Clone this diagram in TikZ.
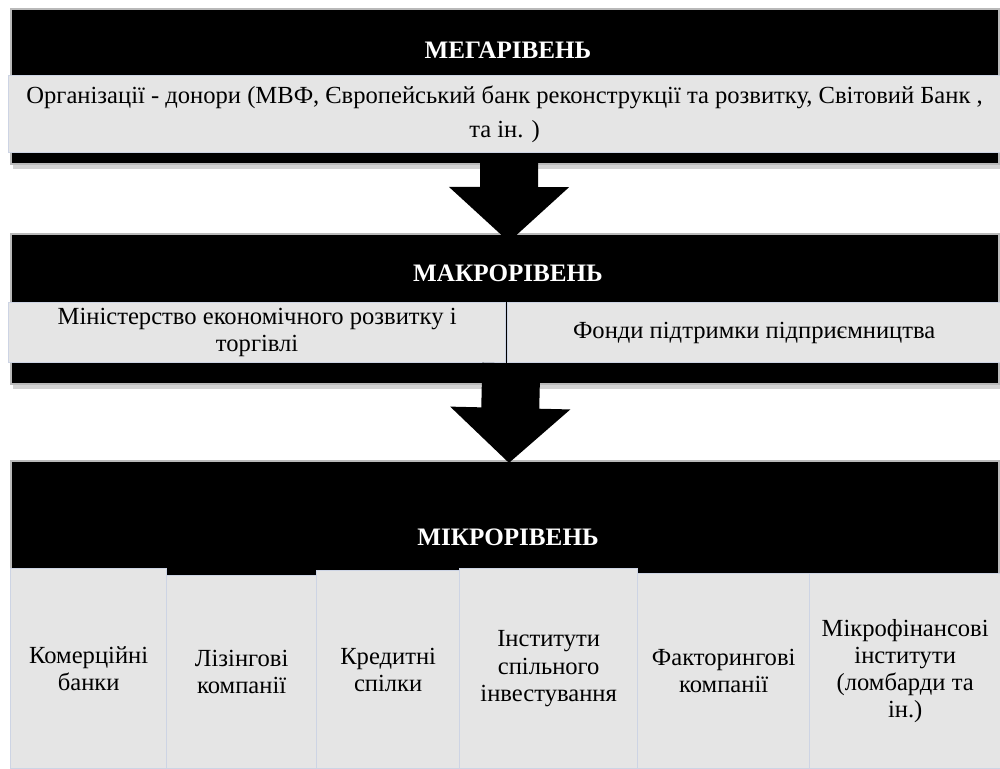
\documentclass[tikz,border=0pt]{standalone}
\usepackage{fontspec}
\setmainfont{Liberation Serif}
\usetikzlibrary{arrows.meta,shadows,positioning,calc}
\definecolor{boxgray}{RGB}{229,229,229}
\definecolor{boxedge}{RGB}{205,212,228}

\begin{document}
\begin{tikzpicture}[x=0.02cm,y=0.02cm]
\tikzstyle{every node}+=[inner sep=0pt, font=\fontsize{14}{15.5}\selectfont]
\tikzstyle{band}=[fill=black, draw=gray!55, line width=1.2pt, anchor=north west, drop shadow={opacity=0.35,shadow xshift=0.04cm,shadow yshift=-0.1cm}]
\tikzstyle{level}=[text=white, font=\fontsize{14.3}{16}\selectfont\bfseries]
\tikzstyle{item}=[fill=boxgray, draw=boxedge, line width=0.8pt, anchor=north west, align=center]
\tikzstyle{bigarrow}=[line width=1.16cm, -{Triangle[width=2.34cm,length=1.1cm]}]
\useasboundingbox (0,0) rectangle (1000,-768);
\node [band, minimum width=19.76cm, minimum height=3.1cm] (mega) at (10,-8) {};
\node [level] (megatitle) at (508,-50) {МЕГАРІВЕНЬ};
\node [item, minimum width=19.84cm, minimum height=1.54cm] (donors) at (8,-75) {Організації - донори (МВФ, Європейський банк реконструкції та розвитку, Світовий Банк ,\\[0.12cm]та ін. )};
\node [band, minimum width=19.76cm, minimum height=3.0cm] (macro) at (10,-233) {};
\node [level] (macrotitle) at (508,-273) {МАКРОРІВЕНЬ};
\node [item, minimum width=9.94cm, minimum height=1.2cm] (ministry) at (8,-302) {Міністерство економічного розвитку і\\торгівлі};
\node [item, minimum width=9.86cm, minimum height=1.2cm] (funds) at (507,-302) {Фонди підтримки підприємництва};
\node [band, minimum width=19.76cm, minimum height=6.2cm] (micro) at (10,-460) {};
\node [level] (microtitle) at (508,-537) {МІКРОРІВЕНЬ};
\node [item, minimum width=3.12cm, minimum height=4.0cm] (banks) at (10,-568) {Комерційні\\банки};
\node [item, minimum width=3.0cm, minimum height=3.86cm] (leasing) at (166,-575) {Лізінгові\\компанії};
\node [item, minimum width=2.86cm, minimum height=3.96cm] (unions) at (316,-570) {Кредитні\\спілки};
\node [item, minimum width=3.56cm, minimum height=4.0cm] (invest) at (459,-568) {Інститути\\спільного\\інвестування};
\node [item, minimum width=3.44cm, minimum height=3.9cm] (factoring) at (637,-573) {Факторингові\\компанії};
\node [item, minimum width=3.82cm, minimum height=3.9cm] (mfi) at (809,-573) {Мікрофінансові\\інститути\\(ломбарди та\\ін.)};
\draw [bigarrow] ([xshift=0.09cm]donors.south) -- ([xshift=0.08cm,yshift=-0.18cm]macro.north);
\draw [bigarrow] ([xshift=0.1cm]ministry.south east) -- ([xshift=0.08cm,yshift=-0.06cm]micro.north);
\end{tikzpicture}
\end{document}
